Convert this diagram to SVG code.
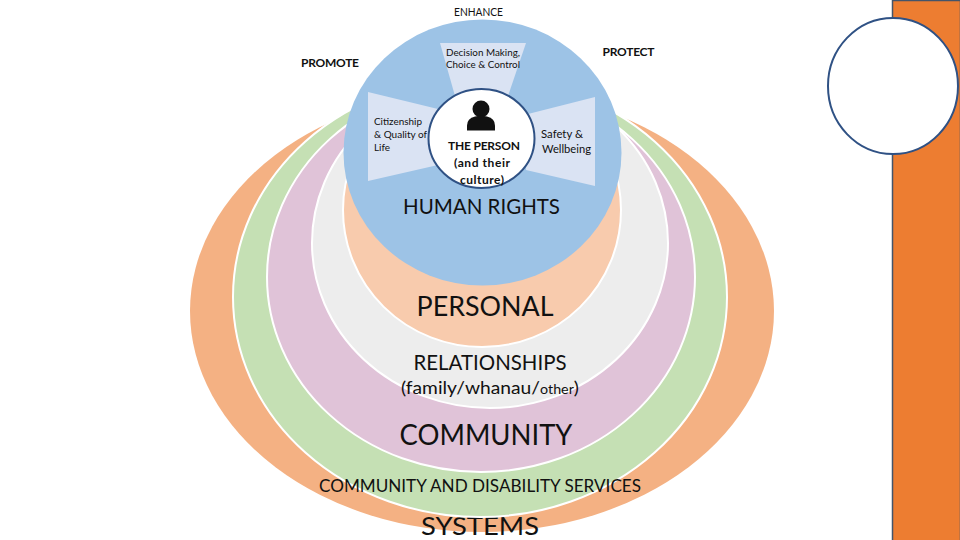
<svg xmlns="http://www.w3.org/2000/svg" width="960" height="540" viewBox="0 0 960 540">
<style>
text{font-family:"Lato","Open Sans","Liberation Sans",sans-serif;fill:#111;text-anchor:middle}
.r{stroke:#fff;stroke-width:2}
.w{fill:#dae3f3}
.s{font-size:9.5px;text-anchor:start}
.m{font-size:11.5px;text-anchor:start}
.b{font-size:12px;font-weight:700}
.o{fill:#fff;stroke:#2f5184;stroke-width:2}
</style>
<rect width="960" height="540" fill="#fff"/>
<g id="side-bar"><rect x="892.500" y="0.500" width="68" height="541" fill="#ed7d31" stroke="#44546a" stroke-width="1.500"/></g>
<g id="side-circle"><ellipse class="o" cx="893" cy="86" rx="65" ry="68"/></g>
<g id="systems"><ellipse cx="482" cy="311" rx="292" ry="221" fill="#f4b183"/><text x="480" y="535" font-size="25" textLength="118" lengthAdjust="spacingAndGlyphs">SYSTEMS</text></g>
<g id="services"><ellipse class="r" cx="480" cy="297" rx="247" ry="220" fill="#c5e0b4"/><text x="480" y="492" font-size="17" textLength="322" lengthAdjust="spacingAndGlyphs">COMMUNITY AND DISABILITY SERVICES</text></g>
<g id="community"><ellipse class="r" cx="481" cy="277" rx="214" ry="195" fill="#e0c3d8"/><text x="486" y="445" font-size="29" textLength="173" lengthAdjust="spacingAndGlyphs">COMMUNITY</text></g>
<g id="relationships"><ellipse class="r" cx="490" cy="243" rx="178" ry="165" fill="#ededed"/><text x="490" y="370" font-size="21" textLength="153" lengthAdjust="spacingAndGlyphs">RELATIONSHIPS</text><text x="490" y="394" font-size="17.500" textLength="178" lengthAdjust="spacingAndGlyphs">(family/whanau/<tspan font-size="13">other</tspan>)</text></g>
<g id="personal"><ellipse class="r" cx="482" cy="210" rx="139" ry="137" fill="#f8cbad"/><text x="485" y="316" font-size="27" textLength="137" lengthAdjust="spacingAndGlyphs">PERSONAL</text></g>
<g id="human-rights"><ellipse cx="482.500" cy="152.500" rx="139" ry="133" fill="#9dc3e6"/><text x="481.500" y="214" font-size="21" textLength="157" lengthAdjust="spacingAndGlyphs">HUMAN RIGHTS</text></g>
<g id="decision"><polygon class="w" points="440,43 526,43 508,96 455,96"/><text class="s" x="446" y="56" textLength="74" lengthAdjust="spacingAndGlyphs">Decision Making,</text><text class="s" x="446" y="68" textLength="74" lengthAdjust="spacingAndGlyphs">Choice &amp; Control</text></g>
<g id="citizenship"><polygon class="w" points="368,92 438,109 438,165 368,181"/><text class="s" x="374" y="125" textLength="48" lengthAdjust="spacingAndGlyphs">Citizenship</text><text class="s" x="374" y="138" textLength="53" lengthAdjust="spacingAndGlyphs">&amp; Quality of</text><text class="s" x="374" y="151" textLength="16" lengthAdjust="spacingAndGlyphs">Life</text></g>
<g id="safety"><polygon class="w" points="595,97 528,114 526,170 595,186"/><text class="m" x="541" y="138" textLength="42" lengthAdjust="spacingAndGlyphs">Safety &amp;</text><text class="m" x="542" y="153" textLength="49" lengthAdjust="spacingAndGlyphs">Wellbeing</text></g>
<g id="person"><ellipse class="o" cx="481.500" cy="138.500" rx="53" ry="49.500"/>
<circle cx="481" cy="109" r="8.500" fill="#111"/><path d="M467 130.500v-5q0-7 8-9q6-1.500 12 0q8 2 8 9v5z" fill="#111"/>
<text class="b" x="484" y="150" textLength="72" lengthAdjust="spacing">THE PERSON</text><text class="b" x="482" y="167" textLength="56" lengthAdjust="spacing">(and their</text><text class="b" x="482" y="184" textLength="44" lengthAdjust="spacing">culture)</text></g>
<g id="labels"><text x="478.500" y="15.500" font-size="11" textLength="49" lengthAdjust="spacingAndGlyphs">ENHANCE</text><text x="330" y="66.500" font-size="12" font-weight="700" textLength="58" lengthAdjust="spacing">PROMOTE</text><text x="628.500" y="55.500" font-size="12" font-weight="700" textLength="52" lengthAdjust="spacing">PROTECT</text></g>
</svg>
